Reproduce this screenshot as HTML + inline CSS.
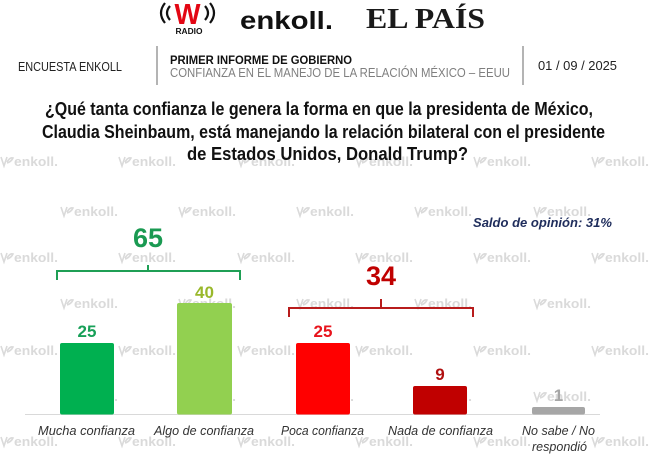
<!DOCTYPE html>
<html>
<head>
<meta charset="utf-8">
<style>
html,body{margin:0;padding:0;background:#fff;}
svg{display:block;}
</style>
</head>
<body>
<svg width="650" height="457" viewBox="0 0 650 457" xmlns="http://www.w3.org/2000/svg">
<rect x="0" y="0" width="650" height="457" fill="#ffffff"/>

<!-- Watermarks -->
<defs>
<g id="wm">
  <path d="M1,-9 L4,0 L7,-9 M7,-4 Q10,-9 13,-8 Q11,-4 7,-3" fill="none" stroke="#dadada" stroke-width="1.6"/>
  <text x="14" y="0" font-family="Liberation Sans, sans-serif" font-weight="bold" font-size="13" fill="#dadada" textLength="44" lengthAdjust="spacingAndGlyphs">enkoll.</text>
</g>
</defs>
<g>
  <use href="#wm" x="0" y="166"/><use href="#wm" x="118" y="166"/><use href="#wm" x="237" y="166"/><use href="#wm" x="355" y="166"/><use href="#wm" x="473" y="166"/><use href="#wm" x="591" y="166"/>
  <use href="#wm" x="60" y="216"/><use href="#wm" x="178" y="216"/><use href="#wm" x="296" y="216"/><use href="#wm" x="414" y="216"/><use href="#wm" x="533" y="216"/>
  <use href="#wm" x="0" y="262"/><use href="#wm" x="118" y="262"/><use href="#wm" x="237" y="262"/><use href="#wm" x="355" y="262"/><use href="#wm" x="473" y="262"/><use href="#wm" x="591" y="262"/>
  <use href="#wm" x="60" y="308"/><use href="#wm" x="178" y="308"/><use href="#wm" x="296" y="308"/><use href="#wm" x="414" y="308"/><use href="#wm" x="533" y="308"/>
  <use href="#wm" x="0" y="355"/><use href="#wm" x="118" y="355"/><use href="#wm" x="237" y="355"/><use href="#wm" x="355" y="355"/><use href="#wm" x="473" y="355"/><use href="#wm" x="591" y="355"/>
  <use href="#wm" x="60" y="401"/><use href="#wm" x="178" y="401"/><use href="#wm" x="296" y="401"/><use href="#wm" x="414" y="401"/><use href="#wm" x="533" y="401"/>
  <use href="#wm" x="0" y="446"/><use href="#wm" x="118" y="446"/><use href="#wm" x="237" y="446"/><use href="#wm" x="355" y="446"/><use href="#wm" x="473" y="446"/><use href="#wm" x="591" y="446"/>
</g>

<!-- Logos -->
<g>
  <path d="M170,6 Q164,13 170,20" fill="none" stroke="#111" stroke-width="2.2"/>
  <path d="M165,3 Q157,13 165,23" fill="none" stroke="#111" stroke-width="2.2"/>
  <path d="M205,6 Q211,13 205,20" fill="none" stroke="#111" stroke-width="2.2"/>
  <path d="M210,3 Q218,13 210,23" fill="none" stroke="#111" stroke-width="2.2"/>
  <text x="187.5" y="24" text-anchor="middle" font-family="Liberation Sans, sans-serif" font-weight="bold" font-size="29" fill="#e30613" textLength="26" lengthAdjust="spacingAndGlyphs">W</text>
  <text x="189" y="34" text-anchor="middle" font-family="Liberation Sans, sans-serif" font-weight="bold" font-size="8" fill="#111" textLength="27" lengthAdjust="spacingAndGlyphs">RADIO</text>
  <text x="240" y="29" font-family="Liberation Sans, sans-serif" font-weight="bold" font-size="25" fill="#111" textLength="93" lengthAdjust="spacingAndGlyphs">enkoll.</text>
  <text x="366" y="28" font-family="Liberation Serif, serif" font-weight="bold" font-size="28" fill="#1a1a1a" textLength="119" lengthAdjust="spacingAndGlyphs">EL PAÍS</text>
</g>

<!-- Header row -->
<text x="18" y="71" font-family="Liberation Sans, sans-serif" font-size="13" fill="#222" textLength="104" lengthAdjust="spacingAndGlyphs">ENCUESTA ENKOLL</text>
<line x1="157" y1="46" x2="157" y2="85" stroke="#9a9a9a" stroke-width="1.5"/>
<text x="170" y="64" font-family="Liberation Sans, sans-serif" font-weight="bold" font-size="12" fill="#111" textLength="182" lengthAdjust="spacingAndGlyphs">PRIMER INFORME DE GOBIERNO</text>
<text x="170" y="77" font-family="Liberation Sans, sans-serif" font-size="12.5" fill="#7f7f7f" textLength="340" lengthAdjust="spacingAndGlyphs">CONFIANZA EN EL MANEJO DE LA RELACIÓN MÉXICO – EEUU</text>
<line x1="523" y1="46" x2="523" y2="85" stroke="#9a9a9a" stroke-width="1.5"/>
<text x="538" y="70" font-family="Liberation Sans, sans-serif" font-size="13" fill="#222" textLength="79" lengthAdjust="spacingAndGlyphs">01 / 09 / 2025</text>

<!-- Question -->
<g font-family="Liberation Sans, sans-serif" font-weight="bold" font-size="18" fill="#111">
  <text x="45" y="115" textLength="548" lengthAdjust="spacingAndGlyphs">¿Qué tanta confianza le genera la forma en que la presidenta de México,</text>
  <text x="42" y="138" textLength="563" lengthAdjust="spacingAndGlyphs">Claudia Sheinbaum, está manejando la relación bilateral con el presidente</text>
  <text x="187" y="160" textLength="281" lengthAdjust="spacingAndGlyphs">de Estados Unidos, Donald Trump?</text>
</g>

<!-- Saldo -->
<text x="473" y="227" font-family="Liberation Sans, sans-serif" font-weight="bold" font-style="italic" font-size="13" fill="#1f2d5c" textLength="139" lengthAdjust="spacingAndGlyphs">Saldo de opinión: 31%</text>

<!-- Green bracket -->
<path d="M57,280 V271 H240 V280 M148,271 V265" fill="none" stroke="#1f9f55" stroke-width="2"/>
<text x="148" y="247" text-anchor="middle" font-family="Liberation Sans, sans-serif" font-weight="bold" font-size="27" fill="#1a9a52">65</text>

<!-- Red bracket -->
<path d="M289,317 V308 H473 V317 M381,308 V299" fill="none" stroke="#b81c1c" stroke-width="2"/>
<text x="381" y="285" text-anchor="middle" font-family="Liberation Sans, sans-serif" font-weight="bold" font-size="27" fill="#c00000">34</text>

<!-- Axis -->
<line x1="25" y1="414.5" x2="600" y2="414.5" stroke="#d9d9d9" stroke-width="1"/>

<!-- Bars -->
<rect x="60" y="343" width="54" height="71.5" rx="2" fill="#00b050"/>
<rect x="177" y="303" width="55" height="111.5" rx="2" fill="#92d050"/>
<rect x="296" y="343" width="54" height="71.5" rx="2" fill="#ff0000"/>
<rect x="413" y="386" width="54" height="28.5" rx="2" fill="#c00000"/>
<rect x="532" y="407" width="53" height="7.5" rx="2" fill="#a6a6a6"/>

<!-- Bar values -->
<g font-family="Liberation Sans, sans-serif" font-weight="bold" font-size="17" text-anchor="middle">
  <text x="87" y="337" fill="#18a058">25</text>
  <text x="204.5" y="298" fill="#99b82b">40</text>
  <text x="323" y="337" fill="#e8141c">25</text>
  <text x="440" y="380" fill="#b01010">9</text>
  <text x="558.5" y="401" fill="#a6a6a6">1</text>
</g>

<!-- Category labels -->
<g font-family="Liberation Sans, sans-serif" font-style="italic" font-size="13" fill="#333">
  <text x="38" y="435" textLength="97" lengthAdjust="spacingAndGlyphs">Mucha confianza</text>
  <text x="154" y="435" textLength="100" lengthAdjust="spacingAndGlyphs">Algo de confianza</text>
  <text x="281" y="435" textLength="83" lengthAdjust="spacingAndGlyphs">Poca confianza</text>
  <text x="388" y="435" textLength="105" lengthAdjust="spacingAndGlyphs">Nada de confianza</text>
  <text x="522" y="435" textLength="73" lengthAdjust="spacingAndGlyphs">No sabe / No</text>
  <text x="532" y="451" textLength="55" lengthAdjust="spacingAndGlyphs">respondió</text>
</g>
</svg>
</body>
</html>
